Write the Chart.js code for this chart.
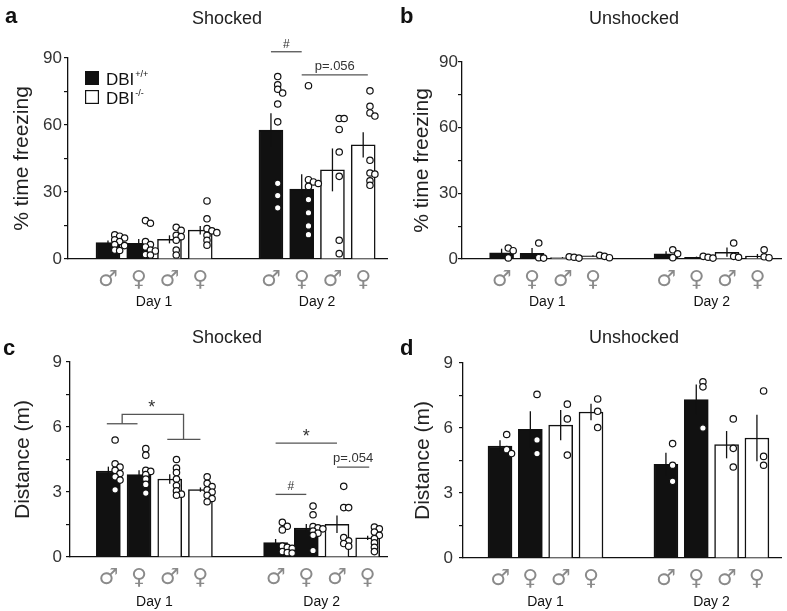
<!DOCTYPE html>
<html lang="en">
  <head>
    <meta charset="UTF-8" />
    <title>DBI freezing and distance</title>
    <script src="https://cdn.jsdelivr.net/npm/chart.js@4.4.1/dist/chart.umd.min.js"></script>
    <style>
      body { margin: 0; background: #fff; }
      .figure { position: relative; width: 787px; height: 611px; }
      .panel { position: absolute; }
      #panelA { left: 0; top: 0; width: 393px; height: 311px; }
      #panelB { left: 393px; top: 0; width: 394px; height: 311px; }
      #panelC { left: 0; top: 311px; width: 393px; height: 300px; }
      #panelD { left: 393px; top: 311px; width: 394px; height: 300px; }
    </style>
  </head>
  <body>
    <div class="figure">
      <div class="panel" id="panelA"><canvas id="chartA"></canvas></div>
      <div class="panel" id="panelB"><canvas id="chartB"></canvas></div>
      <div class="panel" id="panelC"><canvas id="chartC"></canvas></div>
      <div class="panel" id="panelD"><canvas id="chartD"></canvas></div>
    </div>

    <script>
      // bar order: Day 1 wt♂ wt♀ ko♂ ko♀, then Day 2 the same
      const sexLabels = ["♂", "♀", "♂", "♀", "♂", "♀", "♂", "♀"];
      const genotype = ["wt", "wt", "ko", "ko", "wt", "wt", "ko", "ko"];
      const dayLabels = ["Day 1", "Day 2"];

      // a: % time freezing, shocked
      const freezeShockMean = [7.4, 7.0, 8.8, 12.9, 57.7, 31.3, 39.9, 51.1];
      const freezeShockSem = [0.9, 2.0, 1.8, 1.9, 7.6, 6.6, 9.6, 5.7];
      const freezeShockPts = [
        [10.8, 10.2, 9.4, 8.6, 7.8, 6.5, 6.0, 4.0, 3.8],
        [17.2, 16.0, 7.8, 6.5, 5.4, 4.0, 3.6, 2.0, 1.8],
        [14.2, 12.8, 10.6, 10.0, 8.4, 4.0, 1.8],
        [26.0, 18.0, 13.6, 12.6, 11.8, 10.6, 8.4, 6.2],
        [81.7, 78.0, 76.0, 74.3, 69.4, 61.4, 33.9, 28.4, 22.9],
        [77.6, 35.5, 34.5, 33.8, 32.5, 26.6, 20.7, 14.8, 10.9],
        [62.9, 62.9, 58.0, 47.9, 37.0, 8.4, 2.4],
        [75.3, 68.4, 65.4, 64.0, 44.2, 38.5, 38.0, 35.0, 33.0],
      ];

      // b: % time freezing, unshocked
      const freezeNoShockMean = [2.8, 2.6, 0.7, 1.4, 2.4, 0.8, 3.1, 1.3];
      const freezeNoShockSem = [1.9, 2.4, 0.2, 0.3, 1.1, 0.3, 2.1, 1.0];
      const freezeNoShockPts = [
        [5.0, 3.8, 0.5],
        [7.3, 0.6, 0.4],
        [1.0, 0.8, 0.4],
        [1.7, 1.2, 0.6],
        [4.2, 2.4, 0.6],
        [1.2, 0.8, 0.4],
        [7.3, 1.2, 0.8],
        [4.2, 1.0, 0.6],
      ];

      // c: distance (m), shocked
      const distShockMean = [3.97, 3.8, 3.6, 3.11, 0.66, 1.34, 1.51, 0.88];
      const distShockSem = [0.2, 0.2, 0.22, 0.1, 0.17, 0.18, 0.4, 0.1];
      const distShockPts = [
        [5.4, 4.3, 4.15, 4.0, 3.85, 3.7, 3.55, 3.1],
        [5.0, 4.7, 4.0, 3.95, 3.8, 3.6, 3.35, 2.95],
        [4.5, 4.1, 3.9, 3.6, 3.3, 3.05, 2.9, 2.85],
        [3.7, 3.4, 3.25, 3.1, 3.0, 2.85, 2.7, 2.55],
        [1.6, 1.42, 1.25, 0.5, 0.45, 0.4, 0.25, 0.2, 0.18],
        [2.35, 1.95, 1.4, 1.35, 1.3, 1.2, 1.1, 1.0, 0.3],
        [3.26, 2.28, 2.28, 0.9, 0.75, 0.62, 0.5],
        [1.38, 1.3, 1.15, 1.0, 0.85, 0.65, 0.45, 0.25],
      ];

      // d: distance (m), unshocked
      const distNoShockMean = [5.17, 5.94, 6.13, 6.74, 4.32, 7.31, 5.23, 5.54];
      const distNoShockSem = [0.26, 0.83, 0.7, 0.38, 0.54, 0.7, 0.63, 1.07];
      const distNoShockPts = [
        [5.7, 5.0, 4.82],
        [7.55, 5.45, 4.82],
        [7.1, 6.42, 4.75],
        [7.34, 6.77, 6.02],
        [5.28, 4.28, 3.54],
        [8.13, 7.9, 6.0],
        [6.42, 5.06, 4.2],
        [7.71, 4.69, 4.28],
      ];

      const ink = "#111";
      const sans = "'Liberation Sans', Arial, sans-serif";
      Chart.defaults.font.family = sans;
      Chart.defaults.color = "#333";

      // small sideways shift so overlapping dots stay readable
      function dotOffsets(values, yMax) {
        const placed = [];
        const tries = [0, 0.16, 0.32, -0.12];
        return values.map((v) => {
          for (const dx of tries) {
            const free = placed.every(
              (p) => Math.hypot((p.dx - dx) * 31, ((p.v - v) * 198) / yMax) >= 4.2
            );
            if (free) {
              placed.push({ dx, v });
              return dx;
            }
          }
          placed.push({ dx: 0, v });
          return 0;
        });
      }

      const errorBars = {
        id: "errorBars",
        afterDatasetDraw(chart, args) {
          const ds = chart.data.datasets[args.index];
          if (!ds.sem) return;
          const { ctx, scales } = chart;
          ctx.save();
          ctx.strokeStyle = ink;
          ctx.lineWidth = 1.3;
          ds.data.forEach((d, j) => {
            const px = scales.x.getPixelForValue(d.x);
            ctx.beginPath();
            ctx.moveTo(px, scales.y.getPixelForValue(d.y - ds.sem[j]));
            ctx.lineTo(px, scales.y.getPixelForValue(d.y + ds.sem[j]));
            ctx.stroke();
          });
          ctx.restore();
        },
      };

      const sigMarks = {
        id: "sigMarks",
        afterDraw(chart, args, o) {
          if (!o.marks) return;
          const { ctx, scales } = chart;
          const X = (f) => scales.x.getPixelForValue(f < 3.5 ? f : f - 1 + o.gap);
          ctx.save();
          ctx.strokeStyle = "#555";
          ctx.lineWidth = 1.3;
          o.marks.forEach((m) => {
            ctx.beginPath();
            m.path.forEach(([f, v], k) => {
              const px = X(f), py = scales.y.getPixelForValue(v);
              k ? ctx.lineTo(px, py) : ctx.moveTo(px, py);
            });
            ctx.stroke();
            if (!m.text) return;
            const first = m.path[0], last = m.path[m.path.length - 1];
            const tx = m.textAt !== undefined ? X(m.textAt) : (X(first[0]) + X(last[0])) / 2;
            const topV = Math.max(...m.path.map((p) => p[1]));
            ctx.fillStyle = "#333";
            ctx.font = m.size + "px " + sans;
            ctx.textAlign = "center";
            ctx.textBaseline = "alphabetic";
            ctx.fillText(m.text, tx, scales.y.getPixelForValue(topV) - m.lift);
          });
          ctx.restore();
        },
      };

      const panelHeading = {
        id: "panelHeading",
        afterDraw(chart, args, o) {
          if (!o.title) return;
          const ctx = chart.ctx;
          ctx.save();
          ctx.fillStyle = ink;
          ctx.textBaseline = "alphabetic";
          ctx.font = "bold 22px " + sans;
          ctx.textAlign = "left";
          ctx.fillText(o.letter, o.letterX, o.letterY);
          ctx.font = "18px " + sans;
          ctx.textAlign = "center";
          ctx.fillStyle = "#222";
          ctx.fillText(o.title, o.titleX, o.titleY);
          ctx.restore();
        },
      };

      const genotypeKey = {
        id: "genotypeKey",
        afterDraw(chart, args, o) {
          if (!o.items) return;
          const ctx = chart.ctx;
          ctx.save();
          o.items.forEach((it, k) => {
            const top = o.y + k * o.rowGap;
            ctx.fillStyle = it.fill;
            ctx.fillRect(o.x, top, 14, 14);
            ctx.strokeStyle = ink;
            ctx.lineWidth = 1.2;
            ctx.strokeRect(o.x + 0.6, top + 0.6, 12.8, 12.8);
            ctx.fillStyle = ink;
            ctx.textAlign = "left";
            ctx.textBaseline = "alphabetic";
            ctx.font = "17px " + sans;
            ctx.fillText(it.base, o.x + 21, top + 14);
            const w = ctx.measureText(it.base).width;
            ctx.font = "9px " + sans;
            ctx.fillText(it.sup, o.x + 22 + w, top + 6);
          });
          ctx.restore();
        },
      };

      Chart.register(errorBars, sigMarks, panelHeading, genotypeKey);

      function drawPanel(canvasId, p) {
        const pos = sexLabels.map((_, i) => (i < 4 ? i : i - 1 + p.gap));
        const dayCenters = [1.5, 4.5 + p.gap];
        const wtBars = [], koBars = [], wtSem = [], koSem = [];
        p.mean.forEach((m, i) => {
          if (genotype[i] === "wt") {
            wtBars.push({ x: pos[i], y: m });
            wtSem.push(p.sem[i]);
          } else {
            koBars.push({ x: pos[i], y: m });
            koSem.push(p.sem[i]);
          }
        });
        const dots = [];
        p.pts.forEach((vals, i) => {
          const offs = dotOffsets(vals, p.yMax);
          vals.forEach((v, j) => dots.push({ x: pos[i] + 0.22 + offs[j], y: v }));
        });

        new Chart(document.getElementById(canvasId), {
          type: "bar",
          data: {
            datasets: [
              {
                type: "scatter",
                label: "animals",
                data: dots,
                order: 0,
                xAxisID: "x",
                yAxisID: "y",
                clip: false,
                pointRadius: 3.2,
                pointBorderWidth: 1.2,
                pointBackgroundColor: "#fff",
                pointBorderColor: ink,
              },
              {
                label: "DBI+/+",
                data: wtBars,
                sem: wtSem,
                order: 1,
                xAxisID: "x",
                grouped: false,
                barThickness: 24,
                backgroundColor: ink,
                borderColor: ink,
                borderWidth: 1.5,
              },
              {
                label: "DBI-/-",
                data: koBars,
                sem: koSem,
                order: 2,
                xAxisID: "x",
                grouped: false,
                barThickness: 24,
                backgroundColor: "#fff",
                borderColor: ink,
                borderWidth: 1.5,
              },
            ],
          },
          options: {
            responsive: true,
            maintainAspectRatio: false,
            animation: false,
            events: [],
            layout: { padding: { top: p.top, right: p.right, left: 0, bottom: 0 } },
            plugins: {
              legend: { display: false },
              tooltip: { enabled: false },
              panelHeading: p.heading,
              sigMarks: { gap: p.gap, marks: p.marks },
              genotypeKey: p.key || {},
            },
            scales: {
              x: {
                type: "linear",
                min: p.xMin,
                max: p.xMax,
                offset: false,
                grid: { display: false, drawTicks: false },
                border: { display: true, color: ink, width: 1.3 },
                afterBuildTicks: (s) => {
                  s.ticks = pos.map((v) => ({ value: v }));
                },
                ticks: {
                  autoSkip: false,
                  maxRotation: 0,
                  minRotation: 0,
                  padding: p.sexPad,
                  color: "#8a8a8a",
                  font: { family: "'DejaVu Sans'", size: 22 },
                  callback: (v, i) => sexLabels[i],
                },
                afterFit: (s) => {
                  s.height = p.xH;
                },
              },
              x2: {
                type: "linear",
                position: "bottom",
                min: p.xMin,
                max: p.xMax,
                offset: false,
                grid: { display: false, drawTicks: false },
                border: { display: false },
                afterBuildTicks: (s) => {
                  s.ticks = dayCenters.map((v) => ({ value: v }));
                },
                ticks: {
                  autoSkip: false,
                  maxRotation: 0,
                  minRotation: 0,
                  padding: 5,
                  color: ink,
                  font: { size: 14 },
                  callback: (v, i) => dayLabels[i],
                },
                afterFit: (s) => {
                  s.height = 22;
                },
              },
              y: {
                min: 0,
                max: p.yMax,
                grid: {
                  display: true,
                  drawOnChartArea: false,
                  drawTicks: true,
                  tickLength: 4,
                  color: ink,
                  lineWidth: 1.2,
                },
                border: { color: ink, width: 1.3 },
                ticks: {
                  stepSize: p.step,
                  padding: p.tickPad,
                  color: "#333",
                  font: { size: 17 },
                  callback: (v) => (v % p.major === 0 ? v : ""),
                },
                title: {
                  display: true,
                  text: p.yTitle,
                  color: "#222",
                  font: { size: 21 },
                  padding: { top: p.titlePad, bottom: 0 },
                },
                afterFit: (s) => {
                  s.width = p.axisW;
                },
              },
            },
          },
        });
      }

      drawPanel("chartA", {
        mean: freezeShockMean, sem: freezeShockSem, pts: freezeShockPts,
        yMax: 90, step: 15, major: 30, yTitle: "% time freezing",
        gap: 2.3, xMin: -1.3, xMax: 9.1,
        top: 58, right: 1, axisW: 68, tickPad: 2, titlePad: 10, xH: 30, sexPad: 8,
        heading: { letter: "a", letterX: 5, letterY: 23, title: "Shocked", titleX: 227, titleY: 24 },
        key: {
          x: 85, y: 71, rowGap: 19,
          items: [
            { fill: ink, base: "DBI", sup: "+/+" },
            { fill: "#fff", base: "DBI", sup: "-/-" },
          ],
        },
        marks: [
          { path: [[4, 92.8], [5, 92.8]], text: "#", size: 12, lift: 4 },
          { path: [[5, 82.4], [7.15, 82.4]], text: "p=.056", size: 13, lift: 5 },
        ],
      });

      drawPanel("chartB", {
        mean: freezeNoShockMean, sem: freezeNoShockSem, pts: freezeNoShockPts,
        yMax: 90, step: 15, major: 30, yTitle: "% time freezing",
        gap: 2.4, xMin: -1.3, xMax: 9.2,
        top: 62, right: 4, axisW: 69, tickPad: 0, titlePad: 17, xH: 30, sexPad: 8,
        heading: { letter: "b", letterX: 7, letterY: 23, title: "Unshocked", titleX: 241, titleY: 24 },
        marks: [],
      });

      drawPanel("chartC", {
        mean: distShockMean, sem: distShockSem, pts: distShockPts,
        yMax: 9, step: 1.5, major: 3, yTitle: "Distance (m)",
        gap: 2.45, xMin: -1.25, xMax: 9.08,
        top: 51, right: 6, axisW: 70, tickPad: 4, titlePad: 11, xH: 32, sexPad: 8,
        heading: { letter: "c", letterX: 3, letterY: 44, title: "Shocked", titleX: 227, titleY: 32 },
        marks: [
          { path: [[-0.05, 6.15], [0.95, 6.15]] },
          { path: [[0.45, 6.15], [0.45, 6.58], [2.45, 6.58], [2.45, 5.43]], text: "*", textAt: 1.41, size: 18, lift: 1 },
          { path: [[1.92, 5.43], [3.0, 5.43]] },
          { path: [[4, 5.26], [6, 5.26]], text: "*", size: 18, lift: 1 },
          { path: [[6, 4.15], [7.05, 4.15]], text: "p=.054", size: 13, lift: 5 },
          { path: [[4, 2.89], [5, 2.89]], text: "#", size: 12, lift: 4 },
        ],
      });

      drawPanel("chartD", {
        mean: distNoShockMean, sem: distNoShockSem, pts: distNoShockPts,
        yMax: 9, step: 1.5, major: 3, yTitle: "Distance (m)",
        gap: 2.47, xMin: -1.22, xMax: 9.29,
        top: 52, right: 5, axisW: 70, tickPad: 6, titlePad: 18, xH: 31, sexPad: 8,
        heading: { letter: "d", letterX: 7, letterY: 44, title: "Unshocked", titleX: 241, titleY: 32 },
        marks: [],
      });
    </script>
  </body>
</html>
